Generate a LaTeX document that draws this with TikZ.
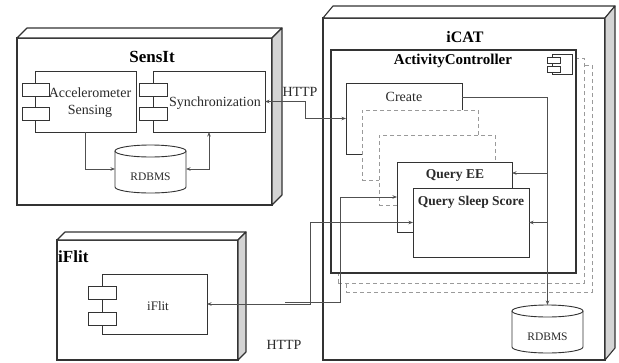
\documentclass[tikz,border=0pt]{standalone}
\usepackage{fontspec}
\setmainfont{Liberation Serif}
\usetikzlibrary{arrows.meta,calc}
\definecolor{ln}{HTML}{333333}
\definecolor{cn}{HTML}{505050}
\definecolor{sd}{HTML}{D4D4D4}
\definecolor{dsh}{HTML}{9A9A9A}
\definecolor{tx}{HTML}{2A2A2A}
\newcommand\dbcyl[1]{%
  \draw[comp] ($(#1.north west)+(0,6)$) -- ($(#1.south west)+(0,-6)$)
    arc[start angle=180,end angle=360,x radius=35.5pt,y radius=6pt]
    -- ($(#1.north east)+(0,6)$);
  \draw[comp] ($(#1.north)+(0,6)$) ellipse[x radius=35.5pt,y radius=6pt];
}
\begin{document}
\begin{tikzpicture}[x=1pt,y=-1pt,
  >={Stealth[length=4.5pt,width=3.5pt]},
  face/.style={draw=ln, fill=white, line width=1.1pt, inner sep=0pt, outer sep=0pt, anchor=north west},
  comp/.style={draw=ln, fill=white, line width=0.9pt, inner sep=0pt, outer sep=0pt, anchor=north west},
  tabbox/.style={comp, minimum width=27pt, minimum height=13pt},
  ghost/.style={draw=dsh, fill=white, dash pattern=on 4pt off 3pt, line width=0.9pt, inner sep=0pt, outer sep=0pt, anchor=north west},
  sideface/.style={draw=ln, fill=sd, line width=1.1pt, line join=round},
  topface/.style={draw=ln, fill=white, line width=1.1pt, line join=round},
  conn/.style={draw=cn, line width=0.8pt},
  lbl/.style={font=\fontsize{14}{17}\selectfont, text=tx, inner sep=0pt, align=center},
  small/.style={font=\fontsize{11.5}{13}\selectfont, text=tx, inner sep=0pt},
  title/.style={font=\fontsize{17}{19}\selectfont\bfseries, text=black, inner sep=0pt},
  ctitle/.style={font=\fontsize{13.5}{15}\selectfont\bfseries, text=tx, inner sep=0pt},
]
\useasboundingbox[fill=white] (0,0) rectangle (619,362);

% ---------------- SensIt ----------------
\node[face, minimum width=255pt, minimum height=167pt] (sensit) at (17,38) {};
\draw[topface] (sensit.north west) -- ++(10,-10) -- ($(sensit.north east)+(10,-10)$) -- (sensit.north east) -- cycle;
\draw[sideface] (sensit.north east) -- ++(10,-10) -- ($(sensit.south east)+(10,-10)$) -- (sensit.south east) -- cycle;
\node[title] (sensitt) at (152,57) {SensIt};

\node[comp, minimum width=101pt, minimum height=61pt] (acc) at (35,71) {};
\node[tabbox] (acctab1) at (22,83) {};
\node[tabbox] (acctab2) at (22,107) {};
\node[lbl] (acct) at (90,103) {Accelerometer\\Sensing};

\node[comp, minimum width=112pt, minimum height=61pt] (sync) at (153,71) {};
\node[tabbox, minimum width=28pt] (synctab1) at (139,83) {};
\node[tabbox, minimum width=28pt] (synctab2) at (139,107) {};
\node[lbl] (synct) at (215,103) {Synchronization};

\node[inner sep=0pt, outer sep=0pt, minimum width=71pt, minimum height=48pt, anchor=north west] (db1) at (115,145) {};
\dbcyl{db1}
\node[small] (db1t) at ($(db1.center)+(0,8)$) {RDBMS};

% ---------------- iFlit ----------------
\node[face, minimum width=181pt, minimum height=120pt] (iflit) at (57,240) {};
\draw[topface] (iflit.north west) -- ++(8,-8) -- ($(iflit.north east)+(8,-8)$) -- (iflit.north east) -- cycle;
\draw[sideface] (iflit.north east) -- ++(8,-8) -- ($(iflit.south east)+(8,-8)$) -- (iflit.south east) -- cycle;
\node[title, anchor=west] (iflitt) at (58,257) {iFlit};

\node[comp, minimum width=105pt, minimum height=60pt] (iflitc) at (102,274) {};
\node[tabbox, minimum width=28pt] (iflittab1) at (88,286) {};
\node[tabbox, minimum width=28pt] (iflittab2) at (88,312) {};
\node[lbl, font=\fontsize{13}{15}\selectfont] (iflitct) at (158,306) {iFlit};

% ---------------- iCAT ----------------
\node[face, minimum width=282pt, minimum height=342pt] (icat) at (323,18) {};
\draw[topface] (icat.north west) -- ++(10,-12) -- ($(icat.north east)+(10,-12)$) -- (icat.north east) -- cycle;
\draw[sideface] (icat.north east) -- ++(10,-12) -- ($(icat.south east)+(10,-12)$) -- (icat.south east) -- cycle;
\node[title, font=\fontsize{16}{18}\selectfont\bfseries] (icatt) at (465,37) {iCAT};

\node[ghost, minimum width=246pt, minimum height=227pt] (ghost2) at (346,65) {};
\node[ghost, minimum width=246pt, minimum height=225pt] (ghost1) at (338,58) {};
\node[face, minimum width=245pt, minimum height=223pt] (ac) at (331,50) {};
\node[title, font=\fontsize{15}{17}\selectfont\bfseries] (act) at (453,61) {ActivityController};

\node[comp, line width=0.8pt, minimum width=20pt, minimum height=20pt] (icon) at (552,54) {};
\node[comp, line width=0.8pt, minimum width=13pt, minimum height=6pt] (icontab1) at (547,57) {};
\node[comp, line width=0.8pt, minimum width=13pt, minimum height=6pt] (icontab2) at (547,66) {};

\node[comp, minimum width=116pt, minimum height=71pt] (create) at (346,83) {};
\node[lbl] (createt) at (404,97) {Create};
\node[ghost, minimum width=116pt, minimum height=70pt] (dash1) at (362,110) {};
\node[ghost, minimum width=116pt, minimum height=70pt] (dash2) at (379,135) {};
\node[comp, minimum width=115pt, minimum height=70pt] (qee) at (397,162) {};
\node[ctitle] (qeet) at (455,175) {Query EE};
\node[comp, minimum width=116pt, minimum height=69pt] (qss) at (413,188) {};
\node[ctitle] (qsst) at (471,202) {Query Sleep Score};

\node[inner sep=0pt, outer sep=0pt, minimum width=71pt, minimum height=48pt, anchor=north west] (db2) at (512,305) {};
\dbcyl{db2}
\node[small] (db2t) at ($(db2.center)+(0,8)$) {RDBMS};

% ---------------- labels ----------------
\node[lbl] (http1) at (300,92) {HTTP};
\node[lbl] (http2) at (284,345) {HTTP};

% ---------------- connectors ----------------
\draw[conn,->] (acc.south) |- (db1.west);
\draw[conn,<->] (db1.east) -| (sync.south);
\draw[conn,<->] (sync.east) -- ++(40,0) |- (create.west);
\draw[conn,->] ($(create.north east)+(0,14)$) -| (db2.north);
\coordinate (b1) at ($(qee.north east)+(0,11)$);
\draw[conn,->] (db2.north |- b1) -- (b1);
\draw[conn,->] (db2.north |- qss.east) -- (qss.east);
\coordinate (j1) at (285,302.5);
\draw[conn,->] (j1) -- ++(55,0) |- (qee.west);
\draw[conn,<->] (iflitc.east) -- ++(103,0) |- (qss.west);
\end{tikzpicture}
\end{document}
